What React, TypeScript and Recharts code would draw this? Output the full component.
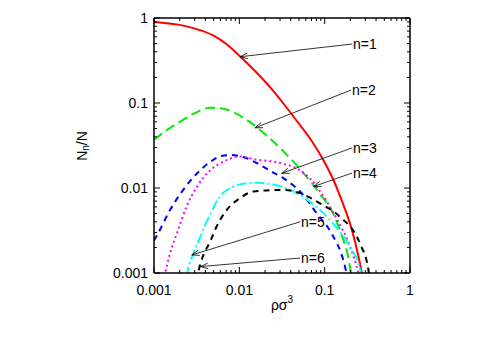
import React from 'react';
import { LineChart, Line, XAxis, YAxis, ReferenceLine } from 'recharts';

// axis decades (log-log, both axes)
const majorTicks = [0.001, 0.01, 0.1, 1];

// n=1
const rho1 = [0.001, 0.002, 0.00316, 0.005, 0.0071, 0.01, 0.0158, 0.0251, 0.033, 0.05, 0.0708, 0.1, 0.126, 0.158, 0.209, 0.251, 0.282];
const frac1 = [0.9, 0.83, 0.74, 0.62, 0.49, 0.36, 0.23, 0.138, 0.098, 0.057, 0.0355, 0.02, 0.0126, 0.0072, 0.0032, 0.0015, 0.00083];
// n=2
const rho2 = [0.001, 0.0015, 0.002, 0.003, 0.0046, 0.006, 0.0085, 0.012, 0.0175, 0.03, 0.043, 0.056, 0.074, 0.088, 0.126, 0.158, 0.186, 0.204, 0.212];
const frac2 = [0.037, 0.05, 0.06, 0.076, 0.088, 0.087, 0.078, 0.064, 0.048, 0.0295, 0.0204, 0.0151, 0.0107, 0.0085, 0.005, 0.0028, 0.00166, 0.001, 0.0008];
// n=3
const rho3 = [0.001, 0.00107, 0.00154, 0.0022, 0.0032, 0.0046, 0.0059, 0.0078, 0.0122, 0.0175, 0.025, 0.033, 0.056, 0.081, 0.121, 0.166, 0.185];
const frac3 = [0.0024, 0.0027, 0.0055, 0.0095, 0.0149, 0.0204, 0.0235, 0.0244, 0.0224, 0.0187, 0.0152, 0.013, 0.0083, 0.005, 0.0029, 0.0014, 0.0009];
// n=4
const rho4 = [0.00128, 0.00135, 0.00154, 0.00185, 0.0024, 0.0032, 0.0046, 0.0065, 0.0102, 0.016, 0.025, 0.036, 0.043, 0.056, 0.067, 0.088, 0.139, 0.2, 0.248, 0.26];
const frac4 = [0.0008, 0.001, 0.0017, 0.0029, 0.006, 0.0104, 0.0163, 0.0204, 0.0235, 0.0215, 0.0205, 0.0187, 0.0178, 0.0152, 0.013, 0.0092, 0.0043, 0.002, 0.001, 0.0008];
// n=5
const rho5 = [0.0024, 0.0025, 0.0029, 0.0035, 0.0046, 0.0059, 0.0085, 0.0122, 0.016, 0.025, 0.067, 0.126, 0.2, 0.26, 0.27];
const frac5 = [0.0009, 0.0011, 0.0017, 0.0027, 0.005, 0.0079, 0.0104, 0.0114, 0.0115, 0.011, 0.0069, 0.0038, 0.002, 0.0011, 0.0008];
// n=6
const rho6 = [0.0032, 0.0033, 0.0036, 0.0046, 0.0054, 0.0071, 0.0102, 0.0146, 0.033, 0.0515, 0.088, 0.15, 0.26, 0.325, 0.34];
const frac6 = [0.0008, 0.001, 0.0014, 0.0024, 0.0035, 0.0055, 0.0076, 0.0091, 0.0095, 0.0087, 0.0066, 0.0046, 0.0022, 0.0011, 0.0008];

// arrow labels: text anchor point and arrow tip, in data units
const labelNames = ['n=1', 'n=2', 'n=3', 'n=4', 'n=5', 'n=6'];
const labelRho = [0.209, 0.204, 0.209, 0.209, 0.0515, 0.0515];
const labelFrac = [0.494, 0.142, 0.0296, 0.015, 0.004, 0.0015];
const tipRho = [0.0102, 0.0153, 0.0314, 0.074, 0.00277, 0.0035];
const tipFrac = [0.35, 0.051, 0.0149, 0.0104, 0.00163, 0.00119];

const FONT = '"Liberation Sans", Arial, sans-serif';

const toPoints = (xs: number[], ys: number[]) => xs.map((x, i) => ({ x, y: ys[i] }));

const series = [
  { name: 'n=1', data: toPoints(rho1, frac1), color: '#ff0000', dash: undefined },
  { name: 'n=2', data: toPoints(rho2, frac2), color: '#00ee00', dash: '10 5' },
  { name: 'n=3', data: toPoints(rho3, frac3), color: '#0000ff', dash: '6 5' },
  { name: 'n=4', data: toPoints(rho4, frac4), color: '#ff00ff', dash: '2 3' },
  { name: 'n=5', data: toPoints(rho5, frac5), color: '#00ffff', dash: '10 3 2 3' },
  { name: 'n=6', data: toPoints(rho6, frac6), color: '#000000', dash: '6 5' },
];

const allTicks: number[] = [];
for (let i = 0; i < majorTicks.length - 1; i++) {
  for (let m = 1; m < 10; m++) allTicks.push(+(majorTicks[i] * m).toPrecision(3));
}
allTicks.push(majorTicks[majorTicks.length - 1]);

const isMajor = (v: number) => majorTicks.some((m) => Math.abs(m - v) / m < 1e-6);

const FrameTick = (props: any) => {
  const { x, y, payload, side } = props;
  const v = payload.value;
  const major = isMajor(v);
  const len = major ? 6 : 3;
  let line;
  let text = null;
  if (side === 'bottom') {
    line = <line x1={x} y1={y} x2={x} y2={y - len} stroke="#000" strokeWidth={1} />;
    if (major)
      text = (
        <text x={x} y={y + 22} textAnchor="middle" fontSize={14} fontFamily={FONT} fill="#000">
          {String(v)}
        </text>
      );
  } else if (side === 'top') {
    line = <line x1={x} y1={y} x2={x} y2={y + len} stroke="#000" strokeWidth={1} />;
  } else if (side === 'left') {
    line = <line x1={x} y1={y} x2={x + len} y2={y} stroke="#000" strokeWidth={1} />;
    if (major)
      text = (
        <text x={x - 6} y={y + 5} textAnchor="end" fontSize={14} fontFamily={FONT} fill="#000">
          {String(v)}
        </text>
      );
  } else {
    line = <line x1={x} y1={y} x2={x - len} y2={y} stroke="#000" strokeWidth={1} />;
  }
  return (
    <g>
      {line}
      {text}
    </g>
  );
};

// thin line from the label to the curve with an open arrow head
const arrowShape = (name: string) => (p: any) => {
  const { x1, y1, x2, y2 } = p;
  const ang = Math.atan2(y2 - y1, x2 - x1);
  const head = 8;
  const spread = 0.35;
  const ax = x2 - head * Math.cos(ang - spread);
  const ay = y2 - head * Math.sin(ang - spread);
  const bx = x2 - head * Math.cos(ang + spread);
  const by = y2 - head * Math.sin(ang + spread);
  return (
    <g>
      <line x1={x1} y1={y1} x2={x2} y2={y2} stroke="#000" strokeWidth={0.8} />
      <polyline points={`${ax},${ay} ${x2},${y2} ${bx},${by}`} fill="none" stroke="#000" strokeWidth={0.8} />
      <text x={x1 + 1} y={y1 + 5} fontSize={14} fontFamily={FONT} fill="#000">
        {name}
      </text>
    </g>
  );
};

const YTitle = () => {
  const cx = 86.5;
  const cy = 146;
  return (
    <text
      x={cx}
      y={cy}
      transform={`rotate(-90 ${cx} ${cy})`}
      textAnchor="middle"
      fontSize={14}
      fontFamily={FONT}
      fill="#000"
    >
      N
      <tspan fontSize={10} dy={2.5}>n</tspan>
      <tspan dy={-2.5}>/N</tspan>
    </text>
  );
};

const XTitle = () => (
  <text x={282} y={310} textAnchor="middle" fontSize={14} fontFamily={FONT} fill="#000">
    ρσ
    <tspan fontSize={10} dy={-7}>3</tspan>
  </text>
);

const App = () => {
  const axisLine = { stroke: '#000', strokeWidth: 1.5 };
  return (
    <div style={{ position: 'absolute', left: 0, top: 0, background: '#fff' }}>
      <LineChart width={485} height={339} margin={{ top: 0, right: 0, bottom: 0, left: 0 }}>
        <XAxis
          xAxisId="b"
          type="number"
          dataKey="x"
          scale="log"
          domain={[0.001, 1]}
          allowDataOverflow
          ticks={allTicks}
          interval={0}
          tickSize={0}
          tickMargin={0}
          tickLine={false}
          axisLine={axisLine}
          height={66}
          tick={(p: any) => <FrameTick {...p} side="bottom" />}
          label={{ content: XTitle }}
        />
        <XAxis
          xAxisId="t"
          orientation="top"
          type="number"
          dataKey="x"
          scale="log"
          domain={[0.001, 1]}
          allowDataOverflow
          ticks={allTicks}
          interval={0}
          tickSize={0}
          tickMargin={0}
          tickLine={false}
          axisLine={axisLine}
          height={18}
          tick={(p: any) => <FrameTick {...p} side="top" />}
        />
        <YAxis
          yAxisId="l"
          type="number"
          dataKey="y"
          scale="log"
          domain={[0.001, 1]}
          allowDataOverflow
          ticks={allTicks}
          interval={0}
          tickSize={0}
          tickMargin={0}
          tickLine={false}
          axisLine={axisLine}
          width={154}
          tick={(p: any) => <FrameTick {...p} side="left" />}
          label={{ content: YTitle }}
        />
        <YAxis
          yAxisId="r"
          orientation="right"
          type="number"
          dataKey="y"
          scale="log"
          domain={[0.001, 1]}
          allowDataOverflow
          ticks={allTicks}
          interval={0}
          tickSize={0}
          tickMargin={0}
          tickLine={false}
          axisLine={axisLine}
          width={75}
          tick={(p: any) => <FrameTick {...p} side="right" />}
        />
        {series.map((s) => (
          <Line
            key={s.name}
            xAxisId="b"
            yAxisId="l"
            data={s.data}
            dataKey="y"
            type="monotone"
            stroke={s.color}
            strokeWidth={2}
            strokeDasharray={s.dash}
            dot={false}
            activeDot={false}
            isAnimationActive={false}
          />
        ))}
        {labelNames.map((name, i) => (
          <ReferenceLine
            key={name}
            xAxisId="b"
            yAxisId="l"
            ifOverflow="visible"
            segment={[
              { x: labelRho[i], y: labelFrac[i] },
              { x: tipRho[i], y: tipFrac[i] },
            ]}
            shape={arrowShape(name)}
          />
        ))}
      </LineChart>
    </div>
  );
};

export default App;
